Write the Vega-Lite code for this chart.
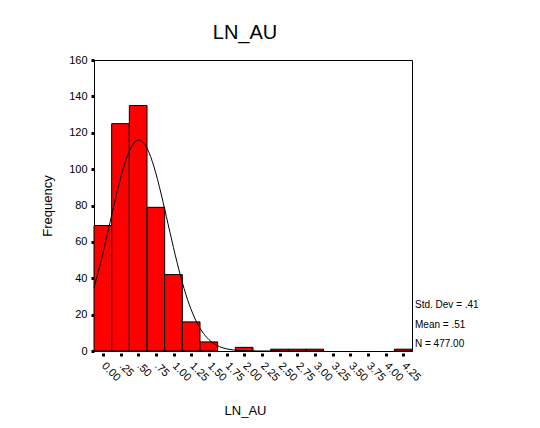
{
  "$schema": "https://vega.github.io/schema/vega-lite/v6.json",
  "width": 318,
  "height": 291,
  "autosize": {"type": "none"},
  "padding": {"left": 94, "top": 60, "right": 128, "bottom": 77},
  "background": "white",
  "title": {"text": "LN_AU", "fontSize": 20, "font": "Liberation Sans", "fontWeight": "normal", "color": "black", "baseline": "alphabetic", "offset": -5, "dx": -8},
  "datasets": {
    "bins": [
      {"x": -0.125, "x2": 0.125, "y": 69},
      {"x": 0.125, "x2": 0.375, "y": 125},
      {"x": 0.375, "x2": 0.625, "y": 135},
      {"x": 0.625, "x2": 0.875, "y": 79},
      {"x": 0.875, "x2": 1.125, "y": 42},
      {"x": 1.125, "x2": 1.375, "y": 16},
      {"x": 1.375, "x2": 1.625, "y": 5},
      {"x": 1.875, "x2": 2.125, "y": 2},
      {"x": 2.375, "x2": 2.625, "y": 1},
      {"x": 2.625, "x2": 2.875, "y": 1},
      {"x": 2.875, "x2": 3.125, "y": 1},
      {"x": 4.125, "x2": 4.375, "y": 1}
    ],
    "curve": [
      {"x": -0.125, "y": 34.97}, {"x": -0.05, "y": 45.65}, {"x": 0, "y": 53.53}, {"x": 0.05, "y": 61.83},
      {"x": 0.1, "y": 70.38}, {"x": 0.15, "y": 78.91}, {"x": 0.2, "y": 87.19}, {"x": 0.25, "y": 94.89},
      {"x": 0.3, "y": 101.77}, {"x": 0.35, "y": 107.52}, {"x": 0.4, "y": 111.94}, {"x": 0.45, "y": 114.79},
      {"x": 0.51, "y": 116.03}, {"x": 0.55, "y": 115.48}, {"x": 0.6, "y": 113.27}, {"x": 0.65, "y": 109.46},
      {"x": 0.7, "y": 104.22}, {"x": 0.75, "y": 97.75}, {"x": 0.8, "y": 90.35}, {"x": 0.85, "y": 82.28},
      {"x": 0.9, "y": 73.81}, {"x": 0.95, "y": 65.23}, {"x": 1.0, "y": 56.81}, {"x": 1.05, "y": 48.74},
      {"x": 1.1, "y": 41.2}, {"x": 1.15, "y": 34.31}, {"x": 1.2, "y": 28.15}, {"x": 1.25, "y": 22.76},
      {"x": 1.3, "y": 18.13}, {"x": 1.35, "y": 14.22}, {"x": 1.4, "y": 11.0}, {"x": 1.45, "y": 8.38},
      {"x": 1.5, "y": 6.29}, {"x": 1.6, "y": 3.39}, {"x": 1.7, "y": 1.72}, {"x": 1.8, "y": 0.82},
      {"x": 1.9, "y": 0.37}, {"x": 2.0, "y": 0.16}, {"x": 2.2, "y": 0.02}, {"x": 2.5, "y": 0}
    ],
    "stats": [
      {"stat": "Std. Dev = .41"},
      {"stat": "Mean = .51"},
      {"stat": "N = 477.00"}
    ]
  },
  "encoding": {
    "x": {
      "field": "x", "type": "quantitative",
      "scale": {"domain": [-0.125, 4.375], "nice": false, "zero": false},
      "axis": {
        "title": "LN_AU",
        "values": [0, 0.25, 0.5, 0.75, 1, 1.25, 1.5, 1.75, 2, 2.25, 2.5, 2.75, 3, 3.25, 3.5, 3.75, 4, 4.25],
        "labelExpr": "datum.value == 0 ? '0.00' : (datum.value < 1 ? replace(format(datum.value, '.2f'), '0.', '.') : format(datum.value, '.2f'))",
        "labelAngle": 45, "labelAlign": "left", "labelBaseline": "middle",
        "labelFontSize": 11, "labelPadding": 8, "labelDx": 3, "labelOverlap": false, "labelBound": false, "labelFlush": false,
        "tickSize": 3, "tickWidth": 3, "offset": 2, "domain": false, "grid": false,
        "titleFontSize": 13, "titleFontWeight": "normal", "titleY": 61, "titleX": 151, "titleBaseline": "alphabetic"
      }
    },
    "y": {
      "field": "y", "type": "quantitative",
      "scale": {"domain": [0, 160], "nice": false},
      "axis": {
        "title": "Frequency",
        "values": [0, 20, 40, 60, 80, 100, 120, 140, 160],
        "labelFontSize": 11, "labelPadding": 4,
        "tickSize": 3, "tickWidth": 3, "domain": false, "grid": false,
        "titleFontSize": 13, "titleFontWeight": "normal", "titlePadding": 14
      }
    }
  },
  "layer": [
    {
      "data": {"name": "bins"},
      "mark": {"type": "rect", "fill": "#ff0000", "stroke": "black", "strokeWidth": 1},
      "encoding": {
        "x2": {"field": "x2"},
        "y2": {"datum": 0}
      }
    },
    {
      "data": {"name": "curve"},
      "mark": {"type": "line", "color": "black", "strokeWidth": 1, "interpolate": "monotone"}
    },
    {
      "data": {"name": "stats"},
      "mark": {"type": "text", "opacity": 0, "text": ""},
      "encoding": {
        "x": {"datum": 0},
        "y": {"datum": 0},
        "color": {
          "field": "stat", "type": "nominal",
          "scale": {"domain": ["Std. Dev = .41", "Mean = .51", "N = 477.00"], "range": ["white", "white", "white"]},
          "legend": {
            "title": null, "orient": "none", "legendX": 311, "legendY": 240,
            "symbolSize": 0, "symbolStrokeWidth": 0, "symbolOpacity": 0,
            "labelFontSize": 10, "labelFont": "Liberation Sans", "labelColor": "black",
            "labelOffset": 0, "rowPadding": 9.5, "padding": 0
          }
        }
      }
    }
  ],
  "config": {
    "view": {"stroke": "black", "strokeWidth": 1},
    "axis": {"labelColor": "black", "titleColor": "black", "tickColor": "black", "labelFont": "Liberation Sans", "titleFont": "Liberation Sans"}
  }
}
